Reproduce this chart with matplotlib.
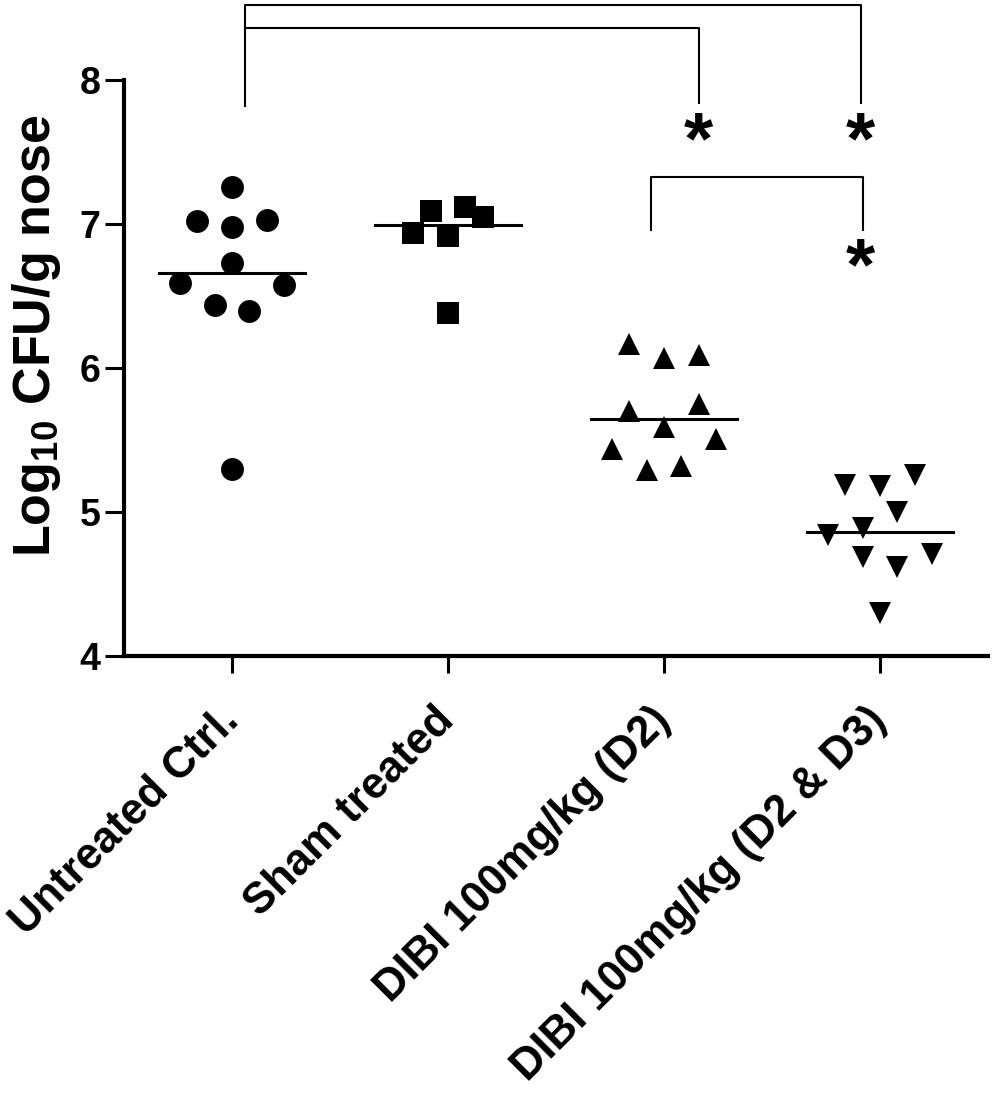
import numpy as np
import matplotlib.pyplot as plt

plt.rcParams['font.family'] = ['Liberation Sans', 'DejaVu Sans']
plt.rcParams['font.weight'] = 'bold'
plt.rcParams['mathtext.fontset'] = 'custom'
plt.rcParams['mathtext.rm'] = 'Liberation Sans:bold'
plt.rcParams['mathtext.bf'] = 'Liberation Sans:bold'
plt.rcParams['mathtext.default'] = 'bf'

# groups and values (log10 CFU/g nose)
groups = ['Untreated Ctrl.', 'Sham treated', 'DIBI 100mg/kg (D2)', 'DIBI 100mg/kg (D2 & D3)']
markers = ['o', 's', '^', 'v']

untreated = [7.26, 7.02, 6.98, 7.03, 6.73, 6.59, 6.58, 6.44, 6.40, 5.30]
untreated_off = [0, -2, 0, 2, 0, -3, 3, -1, 1, 0]
sham = [7.09, 7.12, 6.94, 6.92, 7.05, 6.38]
sham_off = [-1, 1, -2, 0, 2, 0]
dibi_d2 = [6.17, 6.07, 6.09, 5.70, 5.75, 5.59, 5.44, 5.51, 5.29, 5.32]
dibi_d2_off = [-2, 0, 2, -2, 2, 0, -3, 3, -1, 1]
dibi_d23 = [5.19, 5.18, 5.26, 5.00, 4.84, 4.89, 4.69, 4.62, 4.71, 4.30]
dibi_d23_off = [-2, 0, 2, 1, -3, -1, -1, 1, 3, 0]

values = [untreated, sham, dibi_d2, dibi_d23]
offsets = [untreated_off, sham_off, dibi_d2_off, dibi_d23_off]
sizes = [16.5, 16, 16.5, 16.5]

fig = plt.figure(figsize=(10, 10.99), dpi=100)
ax = fig.add_axes([0.124, 0.403, 0.864, 0.524])

step = 0.08
for i, (vals, offs, m, ms) in enumerate(zip(values, offsets, markers, sizes)):
    xs = i + step * np.array(offs)
    ax.plot(xs, vals, linestyle='none', marker=m, markersize=ms,
            color='black', markeredgewidth=0)
    med = np.median(vals)
    ax.plot([i - 0.34, i + 0.34], [med, med], color='black', lw=2.2)

# significance brackets
lw_b = 1.5
ax.plot([0.06, 0.06, 2.91, 2.91], [7.82, 8.52, 8.52, 7.84], color='black', lw=lw_b, clip_on=False)
ax.plot([0.06, 2.16, 2.16], [8.36, 8.36, 7.84], color='black', lw=lw_b, clip_on=False)
ax.plot([1.94, 1.94, 2.92, 2.92], [6.96, 7.33, 7.33, 6.96], color='black', lw=lw_b, clip_on=False)
for sx, sy in [(2.16, 7.65), (2.91, 7.65), (2.91, 6.78)]:
    ax.text(sx, sy - 0.23, '*', fontsize=54, ha='center', va='baseline',
            fontweight='bold', clip_on=False)

ax.set_xlim(-0.5, 3.5)
ax.set_ylim(4, 8)
ax.set_yticks([4, 5, 6, 7, 8])
ax.set_xticks(range(len(groups)))
ax.set_xticklabels(groups, rotation=45, ha='right', rotation_mode='anchor', fontsize=31.5)
ax.tick_params(axis='y', labelsize=27, length=14, width=2.2, pad=3)
ax.tick_params(axis='x', length=12, width=2.2, pad=30)
for lab in ax.get_xticklabels():
    lab.set_va('center')

for s in ['top', 'right']:
    ax.spines[s].set_visible(False)
for s in ['left', 'bottom']:
    ax.spines[s].set_linewidth(3)

ax.set_ylabel(r'Log$_{10}$ CFU/g nose', fontsize=37.5, fontweight='bold')
ax.yaxis.set_label_coords(-0.071, 0.556)

plt.savefig('out.png', dpi=100)
plt.close()
